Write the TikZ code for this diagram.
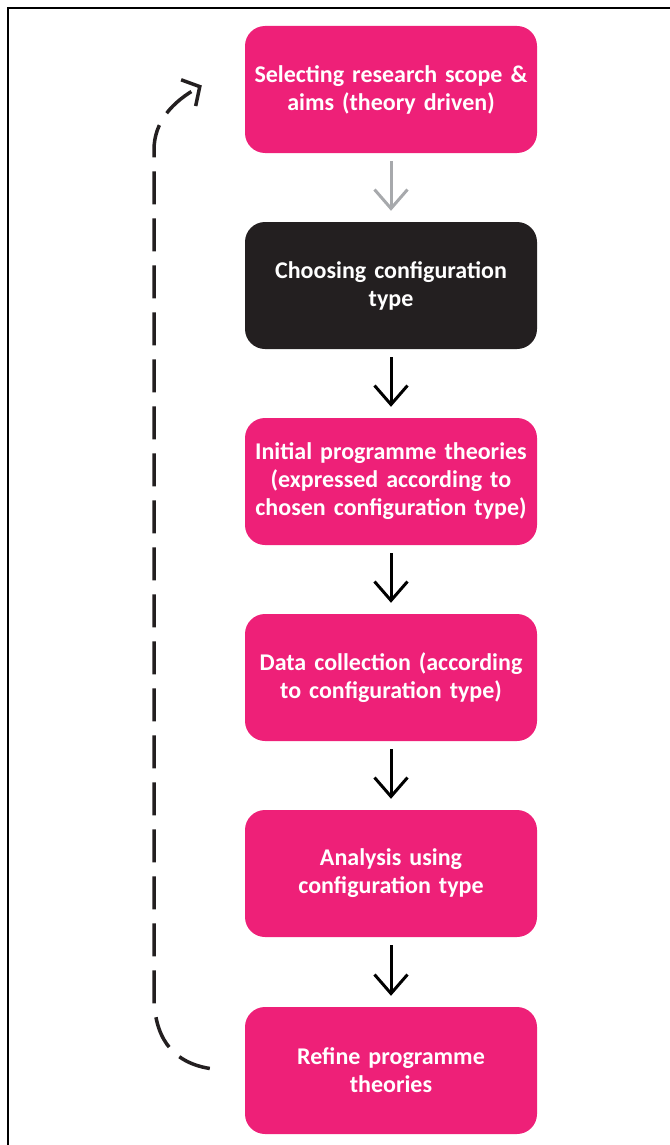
\documentclass[tikz,border=0pt]{standalone}
\usepackage{fontspec}
\setmainfont{Carlito}
\usetikzlibrary{arrows.meta}
\definecolor{stagepink}{RGB}{238,32,120}
\definecolor{stageblack}{RGB}{35,31,32}
\definecolor{firstgray}{RGB}{167,169,172}
\tikzset{
  stage/.style={rectangle, rounded corners=20pt, fill=stagepink, draw=none,
    minimum width=292pt, minimum height=127pt, text width=290pt, align=center,
    text=white, font=\bfseries\fontsize{24}{28}\selectfont, inner sep=0pt},
  flow/.style={line width=3pt, -{Straight Barb[length=19pt,width=33pt]},
    shorten <=8pt, shorten >=11pt}
}
\begin{document}
\begin{tikzpicture}[x=1pt, y=-1pt]
    \useasboundingbox (0,0) rectangle (669,1145);
    % Frame
    \draw[line width=2.5pt] (8,1146) -- (8,8) -- (670,8);

    % Stages
    \node[stage] (scope) at (391,89.5) {Selecting research scope \&\\aims (theory driven)};
    \node[stage, fill=stageblack] (config) at (391,285.5) {Choosing configuration\\type};
    \node[stage] (initial) at (391,481.5) {Initial programme theories\\(expressed according to\\chosen configuration type)};
    \node[stage] (data) at (391,677.5) {Data collection (according\\to configuration type)};
    \node[stage] (analysis) at (391,873.5) {Analysis using\\configuration type};
    \node[stage] (refine) at (391,1070.5) {Refine programme\\theories};

    % Arrows
    \draw[flow, firstgray] (scope) -- (config);
    \draw[flow, black] (config) -- (initial);
    \draw[flow, black] (initial) -- (data);
    \draw[flow, black] (data) -- (analysis);
    \draw[flow, black] (analysis) -- (refine);

    % Feedback loop
    \coordinate (loopstart) at ([xshift=-35pt,yshift=2pt]refine.west);
    \coordinate (loopend) at ([xshift=-43pt,yshift=4pt]scope.west);
    \draw[line width=3.5pt, stageblack, dash pattern=on 33pt off 14pt,
        -{Straight Barb[length=13pt,width=30pt]}]
        (loopstart) .. controls (170,1062) and (154,1035) .. (154,995)
        -- (154,150) .. controls (154,122) and (172,102) .. (loopend);
\end{tikzpicture}
\end{document}
